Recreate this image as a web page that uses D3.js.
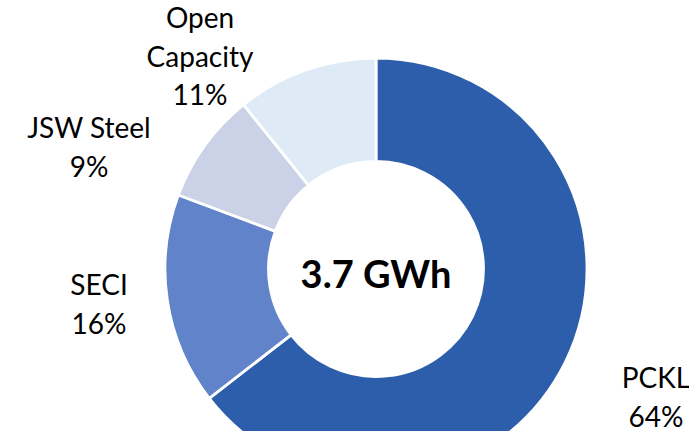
<!DOCTYPE html>
<html><head><meta charset="utf-8">
<script src="https://cdn.jsdelivr.net/npm/d3@7"></script>
<style>html,body{margin:0;padding:0;background:#fff;}svg{display:block;}</style>
</head><body>
<svg id="c" width="689" height="431"></svg>
<script>
const categories = ["PCKL", "SECI", "JSW Steel", "Open Capacity"];
const values = [64.5, 16.2, 8.5, 10.8];
const labelLines = [["PCKL", "64%"], ["SECI", "16%"], ["JSW Steel", "9%"], ["Open", "Capacity", "11%"]];
const colors = ["#2C5EAB", "#6083C9", "#CBD1E7", "#DEEAF6"];
const centerLabel = "3.7 GWh";

const svg = d3.select("#c");
const cx = 376, cy = 269, outerR = 211, innerR = 107.5;
const g = svg.append("g").attr("transform", `translate(${cx},${cy})`);

const pie = d3.pie().value(d => d).sort(null);
const arcs = pie(values);
const arc = d3.arc().innerRadius(innerR).outerRadius(outerR);

g.selectAll("path").data(arcs).join("path")
  .attr("d", arc)
  .attr("fill", (d, i) => colors[i])
  .attr("stroke", "#fff")
  .attr("stroke-width", 2.8)
  .attr("stroke-linejoin", "miter");

// label anchor positions (first baseline)
const labelPos = [[656, 388], [99, 295], [89, 138], [200, 28]];
const lineH = 38.5;
svg.selectAll("text.lbl").data(labelLines).join("text")
  .attr("class", "lbl")
  .attr("text-anchor", "middle")
  .attr("font-family", "Lato, 'Open Sans', sans-serif")
  .attr("font-size", 28)
  .attr("fill", "#000")
  .each(function(lines, i) {
    const t = d3.select(this);
    lines.forEach((l, j) => {
      t.append("tspan").attr("x", labelPos[i][0]).attr("y", labelPos[i][1] + j * lineH).text(l);
    });
  });

g.append("text")
  .attr("text-anchor", "middle")
  .attr("x", 0).attr("y", 19)
  .attr("font-family", "Lato, 'Open Sans', sans-serif")
  .attr("font-weight", "bold")
  .attr("font-size", 38)
  .attr("fill", "#000")
  .text(centerLabel);
</script>
</body></html>
